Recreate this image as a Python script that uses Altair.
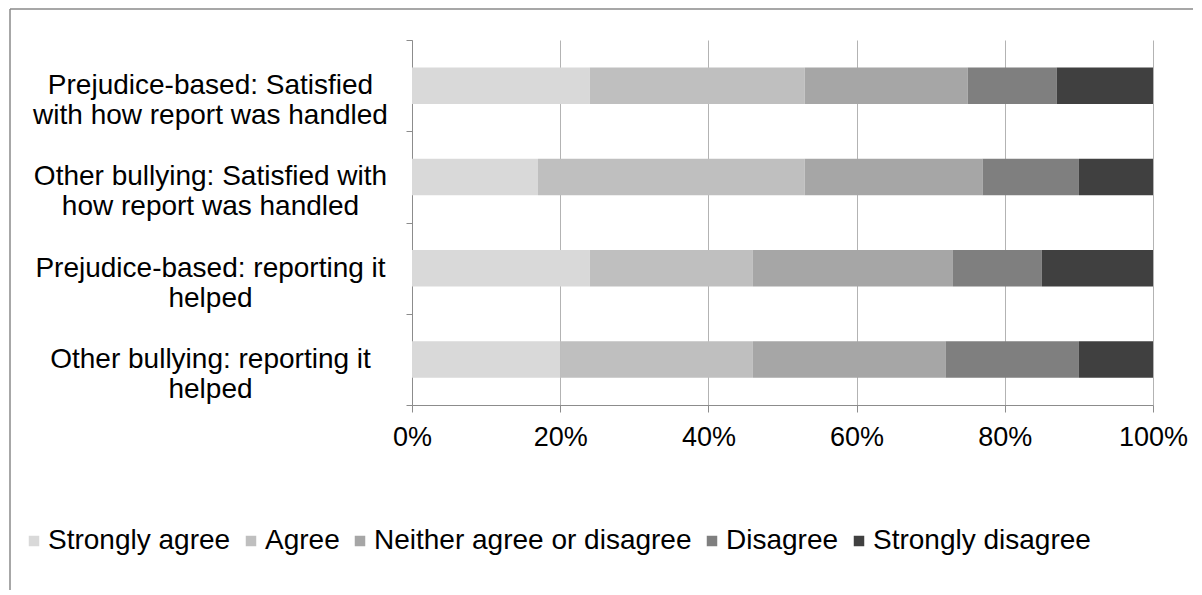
import altair as alt
import pandas as pd

categories = [
    "Prejudice-based: Satisfied|with how report was handled",
    "Other bullying: Satisfied with|how report was handled",
    "Prejudice-based: reporting it|helped",
    "Other bullying: reporting it|helped",
]
responses = ["Strongly agree", "Agree", "Neither agree or disagree", "Disagree", "Strongly disagree"]
strongly_agree = [24, 17, 24, 20]
agree = [29, 36, 22, 26]
neither = [22, 24, 27, 26]
disagree = [12, 13, 12, 18]
strongly_disagree = [13, 10, 15, 10]
colors = ["#D9D9D9", "#BFBFBF", "#A6A6A6", "#7F7F7F", "#404040"]
tick_values = [0, 0.2, 0.4, 0.6, 0.8, 1.0]

series = [strongly_agree, agree, neither, disagree, strongly_disagree]
rows = []
for k, (resp, vals) in enumerate(zip(responses, series)):
    for cat, v in zip(categories, vals):
        rows.append({"category": cat, "response": resp, "value": v, "order": k})
df = pd.DataFrame(rows)

FONT = "Liberation Sans"
FS = 27

bars = alt.Chart(df).mark_bar(height=alt.RelativeBandSize(0.4)).encode(
    x=alt.X(
        "value:Q",
        stack="normalize",
        scale=alt.Scale(domain=[0, 1], nice=False),
        axis=alt.Axis(
            format=".0%", values=tick_values, title=None,
            labelFontSize=FS, labelFont=FONT, labelColor="#000000",
            labelFlush=False, labelPadding=12, tickSize=7, tickColor="#8c8c8c",
            domainColor="#8c8c8c", gridColor="#b3b3b3", gridWidth=1,
        ),
    ),
    y=alt.Y(
        "category:N",
        sort=categories,
        scale=alt.Scale(paddingInner=0, paddingOuter=0),
        axis=alt.Axis(
            title=None, grid=False, tickBand="extent",
            labelExpr="split(datum.label, '|')",
            labelAlign="center", labelBaseline="middle",
            labelPadding=196, labelLimit=0, labelOffset=0,
            labelFontSize=28, labelFont=FONT, labelColor="#000000",
            labelLineHeight=30,
            tickSize=6, tickColor="#8c8c8c", domainColor="#8c8c8c",
        ),
    ),
    color=alt.Color(
        "response:N",
        scale=alt.Scale(domain=responses, range=colors),
        legend=alt.Legend(
            title=None, orient="none", direction="horizontal", columns=5,
            legendX=-392, legendY=487,
            symbolType="square", symbolSize=110, symbolStrokeWidth=0,
            labelFontSize=28, labelFont=FONT, labelColor="#000000",
            labelOffset=0, columnPadding=6, labelLimit=0,
        ),
    ),
    order=alt.Order("order:Q"),
)

frame_data = pd.DataFrame({"edge": ["top", "left"]})
frame_top = alt.Chart(frame_data).transform_filter("datum.edge == 'top'").mark_rule(
    color="#8a8a8a", strokeWidth=1.5
).encode(x=alt.value(-402), x2=alt.value(800), y=alt.value(-31))
frame_left = alt.Chart(frame_data).transform_filter("datum.edge == 'left'").mark_rule(
    color="#8a8a8a", strokeWidth=1.5
).encode(x=alt.value(-402), y=alt.value(-31), y2=alt.value(600))

chart = alt.layer(bars, frame_top, frame_left).properties(
    width=741,
    height=365,
    autosize=alt.AutoSizeParams(type="none"),
    padding={"left": 404, "top": 32, "right": 40, "bottom": 185},
).configure_view(stroke=None)

chart.save("out.html", embed_options={"renderer": "svg", "actions": False})
